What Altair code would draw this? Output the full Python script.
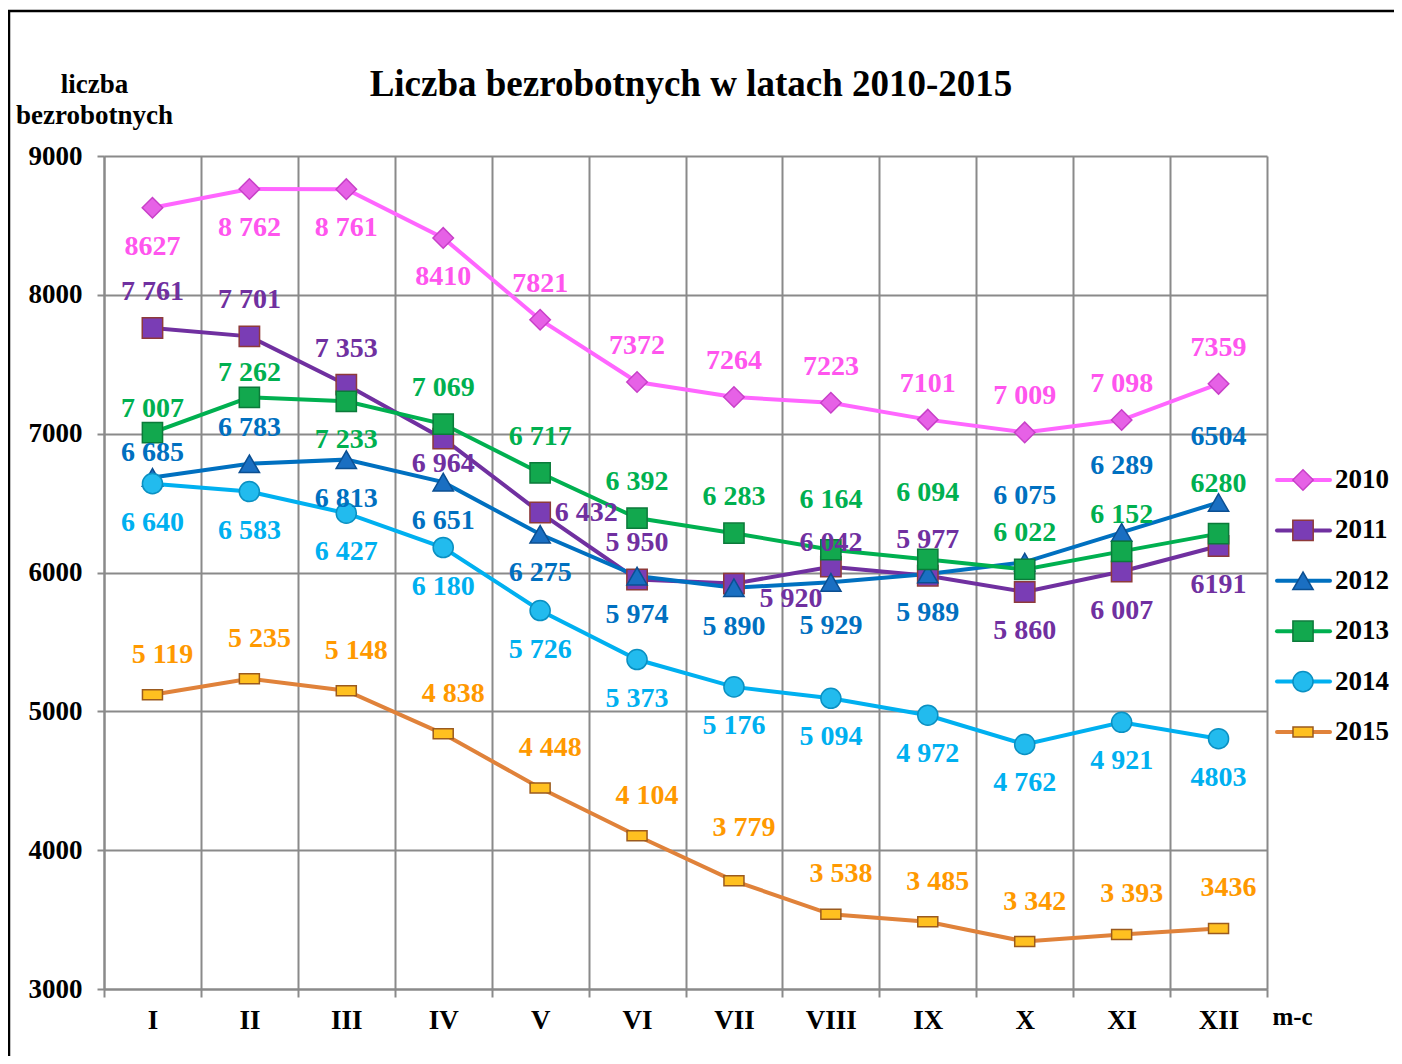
import json
import altair as alt
import pandas as pd

# ---------------- data ----------------
TITLE = "Liczba bezrobotnych w latach 2010-2015"
MONTHS = ["I", "II", "III", "IV", "V", "VI", "VII", "VIII", "IX", "X", "XI", "XII"]
SERIES = ["2010", "2011", "2012", "2013", "2014", "2015"]

V2010 = [8627, 8762, 8761, 8410, 7821, 7372, 7264, 7223, 7101, 7009, 7098, 7359]
V2011 = [7761, 7701, 7353, 6964, 6432, 5950, 5920, 6042, 5977, 5860, 6007, 6191]
V2012 = [6685, 6783, 6813, 6651, 6275, 5974, 5890, 5929, 5989, 6075, 6289, 6504]
V2013 = [7007, 7262, 7233, 7069, 6717, 6392, 6283, 6164, 6094, 6022, 6152, 6280]
V2014 = [6640, 6583, 6427, 6180, 5726, 5373, 5176, 5094, 4972, 4762, 4921, 4803]
V2015 = [5119, 5235, 5148, 4838, 4448, 4104, 3779, 3538, 3485, 3342, 3393, 3436]

L2010 = ["8627", "8 762", "8 761", "8410", "7821", "7372", "7264", "7223", "7101", "7 009", "7 098", "7359"]
L2011 = ["7 761", "7 701", "7 353", "6 964", "6 432", "5 950", "5 920", "6 042", "5 977", "5 860", "6 007", "6191"]
L2012 = ["6 685", "6 783", "6 813", "6 651", "6 275", "5 974", "5 890", "5 929", "5 989", "6 075", "6 289", "6504"]
L2013 = ["7 007", "7 262", "7 233", "7 069", "6 717", "6 392", "6 283", "6 164", "6 094", "6 022", "6 152", "6280"]
L2014 = ["6 640", "6 583", "6 427", "6 180", "5 726", "5 373", "5 176", "5 094", "4 972", "4 762", "4 921", "4803"]
L2015 = ["5 119", "5 235", "5 148", "4 838", "4 448", "4 104", "3 779", "3 538", "3 485", "3 342", "3 393", "3436"]

VALUES = [V2010, V2011, V2012, V2013, V2014, V2015]
LABELS = [L2010, L2011, L2012, L2013, L2014, L2015]

# ---------------- style ----------------
FONT = "Liberation Serif"
LINE_COLORS = ["#FF66FF", "#7030A0", "#0070C0", "#00B050", "#00B0F0", "#E0823A"]
LABEL_COLORS = ["#FF55EE", "#7030A0", "#0070C0", "#00B050", "#00B0F0", "#FF9900"]
MARK_FILLS = ["#E661E6", "#7A3DB5", "#1A6FC2", "#12A84E", "#22BBEE", "#FFC020"]
MARK_STROKES = ["#C840C8", "#8E3A3A", "#0B4F92", "#0B7A3A", "#0A90C2", "#9B5A1E"]
MARK_SHAPES = ["diamond", "square", "triangle-up", "square", "circle", "M-1,-0.5H1V0.5H-1Z"]
MARK_SIZES = [420, 400, 480, 400, 400, 400]

# label placement (side of the point) per series and month
PLACE = {
    "2010": ["b", "b", "b", "b", "a", "a", "a", "a", "a", "a", "a", "a"],
    "2011": ["a", "a", "a", "bs", "r", "a", "br", "as", "a", "b", "b", "b"],
    "2012": ["as", "a", "b", "b", "b", "b", "b", "bb", "b", "aa", "aa", "aa"],
    "2013": ["as", "as", "b", "a", "a", "a", "a", "am", "aa", "a", "a", "am"],
    "2014": ["b"] * 12,
    "2015": ["ar", "ar", "ar", "ar", "ar", "ar", "arm", "ar", "ar", "ar", "ar", "ar"],
}
OFFSETS = {"a": (0, -36), "b": (0, 39), "as": (0, -24), "am": (0, -50), "aa": (0, -66),
           "bs": (0, 25), "bb": (0, 44), "r": (46, 0), "br": (57, 15), "ar": (10, -40),
           "arm": (10, -53)}

W, H = 1163, 833

rows = []
for s, vals, labs in zip(SERIES, VALUES, LABELS):
    for i, (v, l) in enumerate(zip(vals, labs)):
        rows.append({"series": s, "mi": i, "month": MONTHS[i], "value": v,
                     "label": l, "place": PLACE[s][i]})
df = pd.DataFrame(rows)

base = alt.Chart(df).transform_calculate(xpos="datum.mi + 0.5")

roman_expr = json.dumps(MONTHS) + "[datum.value] || ''"

x_enc = alt.X(
    "xpos:Q",
    scale=alt.Scale(domain=[0, len(MONTHS)], nice=False, zero=False),
    axis=alt.Axis(
        values=list(range(len(MONTHS) + 1)),
        labelExpr=roman_expr,
        labelOffset=W / (2 * len(MONTHS)),
        labelOverlap=False,
        labelFlush=False,
        labelPadding=10,
        tickSize=8,
        grid=True,
        title="m-c",
        titleX=1188,
        titleY=27,
        titleBaseline="middle",
        titleAlign="center",
        titleFont=FONT,
        titleFontSize=25,
        titleFontWeight="bold",
    ),
)
y_enc = alt.Y(
    "value:Q",
    scale=alt.Scale(domain=[3000, 9000], nice=False, zero=False),
    axis=alt.Axis(
        values=list(range(3000, 9001, 1000)),
        format="d",
        tickSize=7,
        labelPadding=15,
        grid=True,
        title=["liczba", "bezrobotnych"],
        titleAngle=0,
        titleX=-10,
        titleY=-64,
        titleAlign="center",
        titleBaseline="alphabetic",
        titleLineHeight=31,
        titleFont=FONT,
        titleFontSize=27,
        titleFontWeight="bold",
    ),
)

color_enc = alt.Color("series:N", scale=alt.Scale(domain=SERIES, range=LINE_COLORS), legend=None)
shape_enc = alt.Shape("series:N", scale=alt.Scale(domain=SERIES, range=MARK_SHAPES), legend=None)
fill_enc = alt.Fill("series:N", scale=alt.Scale(domain=SERIES, range=MARK_FILLS), legend=None)
stroke_enc = alt.Stroke("series:N", scale=alt.Scale(domain=SERIES, range=MARK_STROKES), legend=None)
size_enc = alt.Size("series:N", scale=alt.Scale(domain=SERIES, range=MARK_SIZES), legend=None)

lines = base.mark_line(strokeWidth=4).encode(x=x_enc, y=y_enc, color=color_enc)
points = base.mark_point(filled=True, opacity=1, strokeWidth=1.5).encode(
    x=x_enc, y=y_enc, shape=shape_enc, fill=fill_enc, stroke=stroke_enc, size=size_enc
)

text_layers = []
for s, lc in zip(SERIES, LABEL_COLORS):
    for key in sorted(set(PLACE[s])):
        dx, dy = OFFSETS[key]
        text_layers.append(
            base.transform_filter(
                f"datum.series == '{s}' && datum.place == '{key}'"
            ).mark_text(
                font=FONT, fontSize=28, fontWeight="bold", dx=dx, dy=dy,
                align="center", baseline="middle", color=lc
            ).encode(x=x_enc, y=y_enc, text="label:N")
        )

main = alt.layer(lines, points, *text_layers)

# ------------- legend (drawn with marks) -------------
leg_df = pd.DataFrame({"series": SERIES})
ly = alt.Y("series:N", scale=alt.Scale(type="point", domain=SERIES, range=[324, 576], padding=0), axis=None)
leg = alt.Chart(leg_df)
leg_rule = leg.mark_rule(strokeWidth=4, strokeCap="round").encode(
    x=alt.value(1173), x2=alt.value(1226), y=ly, color=color_enc
)
leg_pts = leg.mark_point(filled=True, opacity=1, strokeWidth=1.5).encode(
    x=alt.value(1199), y=ly, shape=shape_enc, fill=fill_enc, stroke=stroke_enc, size=size_enc
)
leg_txt = leg.mark_text(
    font=FONT, fontSize=27, fontWeight="bold", align="left", baseline="middle", color="black"
).encode(x=alt.value(1231), y=ly, text="series:N")
legend = alt.layer(leg_rule, leg_pts, leg_txt)

# ------------- title and outer frame (top and left edges) -------------
one = pd.DataFrame({"k": [0]})
title_mark = alt.Chart(one).mark_text(
    font=FONT, fontSize=37, fontWeight="bold", align="center", baseline="middle", color="black"
).encode(x=alt.value(587), y=alt.value(-71), text=alt.value(TITLE))
frame_top = alt.Chart(one).mark_rule(color="black", strokeWidth=2.5).encode(
    x=alt.value(-96), x2=alt.value(1298), y=alt.value(-145)
)
frame_left = alt.Chart(one).mark_rule(color="black", strokeWidth=2.5).encode(
    x=alt.value(-95), y=alt.value(-146), y2=alt.value(900)
)

chart = (
    alt.layer(main, legend, title_mark, frame_top, frame_left)
    .resolve_scale(y="independent")
    .properties(
        width=W,
        height=H,
        autosize=alt.AutoSizeParams(type="none"),
        padding={"left": 96, "top": 148, "right": 127, "bottom": 67},
    )
    .configure_view(stroke=None)
    .configure_axis(
        gridColor="#8A8A8A", gridWidth=2, gridOpacity=1,
        domainColor="#8A8A8A", domainWidth=2,
        tickColor="#8A8A8A", tickWidth=2,
        labelFont=FONT, labelFontSize=27, labelFontWeight="bold", labelColor="black",
        titleColor="black",
    )
)

chart.save("out.html", embed_options={"renderer": "svg", "actions": False})
